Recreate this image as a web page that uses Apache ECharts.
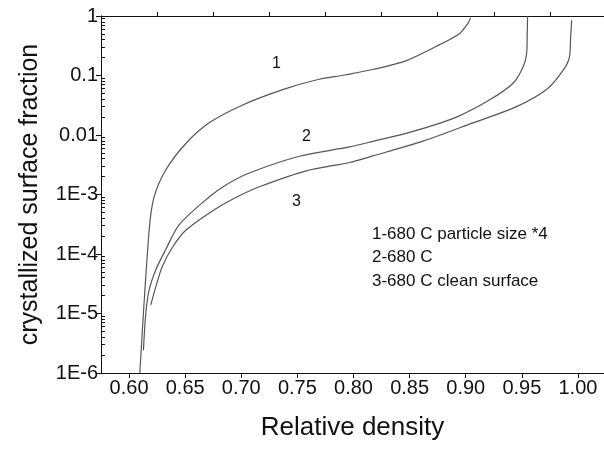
<!DOCTYPE html>
<html>
<head>
<meta charset="utf-8">
<title>Crystallized surface fraction</title>
<script src="https://cdn.jsdelivr.net/npm/echarts@6/dist/echarts.min.js"></script>
<style>
  html, body { margin: 0; padding: 0; background: #fff; }
  #chart { width: 604px; height: 450px; }
</style>
</head>
<body>
<div id="chart"></div>
<script>
(function () {
  "use strict";

  // ── Data (relative density, crystallized fraction) ──
  var curve1Density = [0.6096, 0.6179, 0.6223, 0.6328, 0.6506, 0.6714, 0.7012, 0.7369,
    0.7667, 0.7920, 0.8172, 0.8471, 0.8768, 0.8946, 0.9021, 0.9042];
  var curve1Fraction = [1e-6, 2.5e-4, 9.1e-4, 2.6e-3, 7.2e-3, 1.6e-2, 3.2e-2, 5.8e-2,
    8.4e-2, 0.102, 0.126, 0.178, 0.33, 0.51, 0.76, 0.93];

  var curve2Density = [0.6128, 0.6149, 0.6179, 0.6238, 0.6328, 0.6446, 0.6714, 0.6863,
    0.7071, 0.7518, 0.7964, 0.8172, 0.8530, 0.8917, 0.9214, 0.9422, 0.9512, 0.9542,
    0.9548, 0.9551];
  var curve2Fraction = [2.4e-6, 1.0e-5, 2.5e-5, 5.4e-5, 1.2e-4, 3.1e-4, 9.1e-4, 1.45e-3,
    2.3e-3, 4.4e-3, 6.3e-3, 7.8e-3, 1.15e-2, 2.0e-2, 3.9e-2, 7.4e-2, 0.14, 0.23,
    0.51, 1.0];

  var curve3Density = [0.6194, 0.6238, 0.6297, 0.6387, 0.6506, 0.6774, 0.6982,
    0.7161, 0.7578, 0.7964, 0.8172, 0.8619, 0.9065, 0.9453, 0.9720, 0.9869, 0.9923,
    0.9935, 0.9944];
  var curve3Fraction = [1.4e-5, 2.8e-5, 6.2e-5, 1.3e-4, 2.5e-4, 5.75e-4, 9.5e-4,
    1.35e-3, 2.5e-3, 3.45e-3, 4.45e-3, 7.9e-3, 1.6e-2, 3.0e-2, 5.8e-2, 0.123, 0.20,
    0.45, 0.85];

  var xTicks = [0.60, 0.65, 0.70, 0.75, 0.80, 0.85, 0.90, 0.95, 1.00];
  var xMinorTicks = [0.625, 0.675, 0.725, 0.775, 0.825, 0.875, 0.925, 0.975];
  var curveLabels = ["1", "2", "3"];
  var legendLines = ["1-680 C particle size *4", "2-680 C", "3-680 C clean surface"];

  var FONT = '"Liberation Sans", Arial, Helvetica, sans-serif';
  var INK = "#111";
  var LINE = "#555";

  // minor tick marks for the log axis: 2..9 in every decade, given as decade exponents
  // so a plain linear helper axis (-6..0) can draw them at the same pixel positions
  var yMinorExp = [];
  for (var e = -6; e < 0; e++) {
    for (var m = 2; m <= 9; m++) yMinorExp.push(e + Math.log(m) / Math.LN10);
  }

  function pairs(xs, ys) {
    var out = [];
    for (var i = 0; i < xs.length; i++) out.push([xs[i], ys[i]]);
    return out;
  }

  function yLabel(v) {
    var n = Math.round(Math.log(v) / Math.LN10);
    if (n === 0) return "1";
    if (n === -1) return "0.1";
    if (n === -2) return "0.01";
    return "1E" + n;
  }

  function gridBox() {
    return { left: 101, right: 0, top: 16, bottom: 77, outerBoundsMode: "none", containLabel: false };
  }

  var chart = echarts.init(document.getElementById("chart"), null, { renderer: "canvas" });

  var series = [];
  var sets = [pairs(curve1Density, curve1Fraction), pairs(curve2Density, curve2Fraction), pairs(curve3Density, curve3Fraction)];
  for (var s = 0; s < sets.length; s++) {
    series.push({
      name: curveLabels[s],
      type: "line",
      xAxisIndex: 0,
      yAxisIndex: 0,
      data: sets[s],
      showSymbol: false,
      symbol: "none",
      smooth: 0.3,
      lineStyle: { color: LINE, width: 1.2 },
      silent: true
    });
  }

  var graphics = [
    { type: "text", left: 272, top: 56, style: { text: curveLabels[0], font: "16px " + FONT, fill: INK } },
    { type: "text", left: 302, top: 129, style: { text: curveLabels[1], font: "16px " + FONT, fill: INK } },
    { type: "text", left: 292, top: 194, style: { text: curveLabels[2], font: "16px " + FONT, fill: INK } }
  ];
  for (var g = 0; g < legendLines.length; g++) {
    graphics.push({
      type: "text", left: 372, top: 226 + g * 23.3,
      style: { text: legendLines[g], font: "17px " + FONT, fill: INK }
    });
  }

  var option = {
    animation: false,
    backgroundColor: "#fff",
    textStyle: { fontFamily: FONT },
    grid: [gridBox(), gridBox()],
    xAxis: [
      {
        type: "value", gridIndex: 0, position: "bottom", min: 0.575, max: 1.0232,
        axisLine: { show: true, lineStyle: { color: INK, width: 1 } },
        axisTick: { show: true, inside: false, length: 5, customValues: xTicks, lineStyle: { color: INK } },
        axisLabel: {
          customValues: xTicks, color: INK, fontSize: 20, margin: 5,
          formatter: function (v) { return v.toFixed(2); }
        },
        splitLine: { show: false },
        name: "Relative density", nameLocation: "middle", nameGap: 42,
        nameTextStyle: { color: INK, fontSize: 26 }
      },
      {
        type: "value", gridIndex: 0, position: "top", min: 0.575, max: 1.0232,
        axisLine: { show: true, lineStyle: { color: "#aaa", width: 1 } },
        axisTick: { show: false }, axisLabel: { show: false }, splitLine: { show: false }
      },
      {
        type: "value", gridIndex: 1, position: "bottom", min: 0.575, max: 1.0232,
        axisLine: { show: true, lineStyle: { color: INK, width: 1 } },
        axisTick: { show: true, inside: true, length: 4, customValues: xMinorTicks, lineStyle: { color: INK } },
        axisLabel: { show: false }, splitLine: { show: false }
      }
    ],
    yAxis: [
      {
        type: "log", logBase: 10, gridIndex: 0, position: "left", min: 1e-6, max: 1,
        axisLine: { show: true, lineStyle: { color: INK, width: 1 } },
        axisTick: { show: true, inside: false, length: 5, lineStyle: { color: INK } },
        axisLabel: { color: INK, fontSize: 20, margin: 3, formatter: yLabel },
        splitLine: { show: false },
        name: "crystallized surface fraction", nameLocation: "middle", nameGap: 58,
        nameTextStyle: { color: INK, fontSize: 25 }
      },
      {
        type: "value", gridIndex: 1, position: "left", min: -6, max: 0,
        axisLine: { show: true, lineStyle: { color: INK, width: 1 } },
        axisTick: { show: true, inside: true, length: 4, customValues: yMinorExp, lineStyle: { color: INK } },
        axisLabel: { show: false }, splitLine: { show: false }
      }
    ],
    graphic: graphics,
    series: series
  };

  chart.setOption(option);
})();
</script>
</body>
</html>
